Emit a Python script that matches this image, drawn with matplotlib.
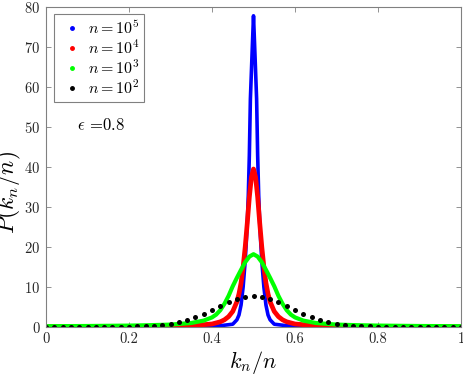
import numpy as np
import matplotlib
matplotlib.use('Agg')
import matplotlib.pyplot as plt
from matplotlib.lines import Line2D

# P(k_n/n)
x_b = [0.0, 0.3, 0.4, 0.45, 0.46, 0.465, 0.47, 0.475, 0.48, 0.4825, 0.485, 0.4875,
       0.49, 0.4925, 0.495, 0.4975, 0.5, 0.5025, 0.505, 0.5075, 0.51, 0.5125, 0.515,
       0.5175, 0.52, 0.525, 0.53, 0.535, 0.54, 0.55, 0.6, 0.7, 1.0]
p_b = [0.01, 0.02, 0.07, 0.7, 1.8, 3.0, 5.5, 10.0, 16.5, 21.0, 26.0, 33.0,
       43.0, 57.0, 64.0, 71.0, 77.8, 71.0, 64.0, 57.0, 43.0, 33.0, 26.0,
       21.0, 16.5, 10.0, 5.5, 3.0, 1.8, 0.7, 0.07, 0.02, 0.01]

x_r = [0.0, 0.2, 0.3, 0.35, 0.4, 0.42, 0.43, 0.44, 0.45, 0.46, 0.465, 0.47, 0.475,
       0.48, 0.485, 0.49, 0.495, 0.5, 0.505, 0.51, 0.515, 0.52, 0.525, 0.53, 0.535,
       0.54, 0.55, 0.56, 0.57, 0.58, 0.6, 0.65, 0.7, 0.8, 1.0]
p_r = [0.05, 0.1, 0.2, 0.35, 0.75, 1.3, 1.8, 2.6, 3.9, 6.3, 8.3, 11.0, 15.0,
       20.0, 26.0, 32.5, 37.5, 39.5, 37.5, 32.5, 26.0, 20.0, 15.0, 11.0, 8.3,
       6.3, 3.9, 2.6, 1.8, 1.3, 0.75, 0.35, 0.2, 0.1, 0.05]

x_g = [0.0, 0.1, 0.2, 0.25, 0.3, 0.35, 0.38, 0.4, 0.41, 0.42, 0.43, 0.44, 0.45,
       0.46, 0.47, 0.48, 0.49, 0.5, 0.51, 0.52, 0.53, 0.54, 0.55, 0.56, 0.57,
       0.58, 0.59, 0.6, 0.62, 0.65, 0.7, 0.75, 0.8, 0.9, 1.0]
p_g = [0.2, 0.25, 0.35, 0.45, 0.6, 1.0, 1.6, 2.4, 3.1, 4.2, 5.8, 7.8, 10.2,
       12.3, 14.3, 16.2, 17.6, 18.2, 17.6, 16.2, 14.3, 12.3, 10.2, 7.8, 5.8,
       4.2, 3.1, 2.4, 1.6, 1.0, 0.6, 0.45, 0.35, 0.25, 0.2]

x_k = [0.0, 0.02, 0.04, 0.06, 0.08, 0.1, 0.12, 0.14, 0.16, 0.18, 0.2, 0.22, 0.24,
       0.26, 0.28, 0.3, 0.32, 0.34, 0.36, 0.38, 0.4, 0.42, 0.44, 0.46, 0.48, 0.5,
       0.52, 0.54, 0.56, 0.58, 0.6, 0.62, 0.64, 0.66, 0.68, 0.7, 0.72, 0.74, 0.76,
       0.78, 0.8, 0.82, 0.84, 0.86, 0.88, 0.9, 0.92, 0.94, 0.96, 0.98, 1.0]
p_k = [0.0, 0.0, 0.0, 0.01, 0.01, 0.02, 0.03, 0.04, 0.06, 0.08, 0.11, 0.16, 0.23,
       0.33, 0.5, 0.8, 1.2, 1.8, 2.5, 3.3, 4.3, 5.3, 6.3, 7.1, 7.6, 7.8,
       7.6, 7.1, 6.3, 5.3, 4.3, 3.3, 2.5, 1.8, 1.2, 0.8, 0.5, 0.33, 0.23,
       0.16, 0.11, 0.08, 0.06, 0.04, 0.03, 0.02, 0.01, 0.01, 0.0, 0.0, 0.0]

labels = [r'$n=10^5$', r'$n=10^4$', r'$n=10^3$', r'$n=10^2$']
colors = ['#0000ff', '#ff0000', '#00ff00', '#000000']
xticks = [0, 0.2, 0.4, 0.6, 0.8, 1]
xtick_labels = ['0', '0.2', '0.4', '0.6', '0.8', '1']
yticks = [0, 10, 20, 30, 40, 50, 60, 70, 80]

plt.rcParams['mathtext.fontset'] = 'cm'
plt.rcParams['font.family'] = 'serif'
plt.rcParams['font.serif'] = ['cmr10', 'DejaVu Serif']
plt.rcParams['axes.formatter.use_mathtext'] = True

fig = plt.figure(figsize=(4.63, 3.76), dpi=100)
ax = fig.add_axes([46/463, 1 - 327/376, 415/463, 320/376])

ax.plot(x_b, p_b, color=colors[0], lw=2.6, solid_capstyle='round')
ax.plot(x_r, p_r, color=colors[1], lw=3.4, solid_capstyle='round')
ax.plot(x_g, p_g, color=colors[2], lw=3.0, solid_capstyle='round')
ax.plot(x_k, p_k, 'o', color=colors[3], ms=3.6, mew=0)

ax.set_xlim(0, 1)
ax.set_ylim(0, 80)
ax.set_xticks(xticks)
ax.set_xticklabels(xtick_labels)
ax.set_yticks(yticks)
ax.tick_params(direction='in', length=3.5, width=0.6, color='#808080',
               labelsize=10.5, labelcolor='#262626', top=True, right=True, pad=4)
for s in ax.spines.values():
    s.set_color('#808080')
    s.set_linewidth(0.8)

ax.set_xlabel(r'$k_n/n$', fontsize=16, labelpad=2)
ax.set_ylabel(r'$P(k_n/n)$', fontsize=17)
ax.yaxis.set_label_coords(-0.055, 0.42)

ax.text(0.075, 50.5, r'$\epsilon$ =0.8', fontsize=12, va='center', ha='left')

handles = [Line2D([], [], ls='none', marker='.', color=c, ms=5) for c in colors]
leg = ax.legend(handles, labels, loc='upper left', bbox_to_anchor=(0.0193, 0.978),
                borderaxespad=0, fontsize=11.5, handlelength=1.63, handletextpad=0.19,
                labelspacing=0.1, borderpad=0.31, fancybox=False, framealpha=1)
leg.get_frame().set_edgecolor('#808080')
leg.get_frame().set_linewidth(0.8)

fig.savefig('out.png', dpi=100)
